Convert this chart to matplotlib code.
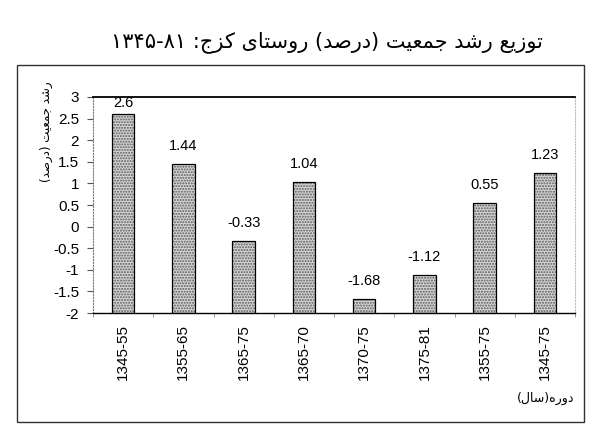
import numpy as np
import matplotlib
matplotlib.use('Agg')
import matplotlib.pyplot as plt
from matplotlib.patches import Rectangle

# data
periods = ['1345-55', '1355-65', '1365-75', '1365-70',
           '1370-75', '1375-81', '1355-75', '1345-75']
growth = [2.6, 1.44, -0.33, 1.04, -1.68, -1.12, 0.55, 1.23]
y_ticks = [-2, -1.5, -1, -0.5, 0, 0.5, 1, 1.5, 2, 2.5, 3]

# persian letters -> (isolated, final, initial, medial); None = no forward join
FORMS = {
    'ا': ('\uFE8D', '\uFE8E', None, None),
    'د': ('\uFEA9', '\uFEAA', None, None),
    'ر': ('\uFEAD', '\uFEAE', None, None),
    'ز': ('\uFEAF', '\uFEB0', None, None),
    'و': ('\uFEED', '\uFEEE', None, None),
    'ت': ('\uFE95', '\uFE96', '\uFE97', '\uFE98'),
    'ج': ('\uFE9D', '\uFE9E', '\uFE9F', '\uFEA0'),
    'س': ('\uFEB1', '\uFEB2', '\uFEB3', '\uFEB4'),
    'ش': ('\uFEB5', '\uFEB6', '\uFEB7', '\uFEB8'),
    'ص': ('\uFEB9', '\uFEBA', '\uFEBB', '\uFEBC'),
    'ع': ('\uFEC9', '\uFECA', '\uFECB', '\uFECC'),
    'ک': ('\uFB8E', '\uFB8F', '\uFB90', '\uFB91'),
    'ل': ('\uFEDD', '\uFEDE', '\uFEDF', '\uFEE0'),
    'م': ('\uFEE1', '\uFEE2', '\uFEE3', '\uFEE4'),
    'ه': ('\uFEE9', '\uFEEA', '\uFEEB', '\uFEEC'),
    'ی': ('\uFBFC', '\uFBFD', '\uFBFE', '\uFBFF'),
}


def fa(text):
    """shape persian text and return it in visual (left to right) order"""
    out = []
    for i, ch in enumerate(text):
        if ch not in FORMS:
            out.append(ch)
            continue
        prev = text[i - 1] if i > 0 else ''
        nxt = text[i + 1] if i + 1 < len(text) else ''
        join_prev = prev in FORMS and FORMS[prev][2] is not None
        join_next = nxt in FORMS and FORMS[ch][2] is not None
        iso, fin, ini, med = FORMS[ch]
        if join_prev and join_next:
            out.append(med)
        elif join_prev:
            out.append(fin)
        elif join_next:
            out.append(ini)
        else:
            out.append(iso)
    swap = {'(': ')', ')': '('}
    return ''.join(swap.get(c, c) for c in reversed(out))


plt.rcParams['font.family'] = ['Liberation Sans', 'DejaVu Sans']

W, H = 604, 436
fig = plt.figure(figsize=(W / 100, H / 100), dpi=100)
ax = fig.add_axes([93 / W, 1 - 313 / H, (575 - 93) / W, (313 - 97) / H])

x = np.arange(len(periods))
base = -2
vals = np.array(growth)
# stippled fill, then a black outline on top
ax.bar(x, vals - base, bottom=base, width=0.37, color='#d6d6d6',
       hatch='......', edgecolor='#5a5a5a', linewidth=0, zorder=2)
ax.bar(x, vals - base, bottom=base, width=0.37, fill=False,
       edgecolor='black', linewidth=0.9, zorder=3)

for xi, v in zip(x, growth):
    ax.text(xi, min(v + 0.42, 2.87), f'{v:g}', ha='center', va='center',
            fontsize=10.5, zorder=4)

ax.set_xlim(-0.5, len(periods) - 0.5)
ax.set_ylim(-2, 3)
ax.set_yticks(y_ticks)
ax.set_yticklabels([f'{t:g}' for t in y_ticks], fontsize=11)
ax.set_xticks(x)
ax.set_xticklabels(periods, rotation=90, fontsize=11)
ax.set_xticks(np.arange(len(periods) + 1) - 0.5, minor=True)
ax.tick_params(axis='x', which='major', length=0, pad=8)
ax.tick_params(axis='x', which='minor', length=3, direction='out',
               color='#888888')
ax.tick_params(axis='y', length=4, direction='out', pad=6, color='#555555')

ax.spines['top'].set_linewidth(1.3)
ax.spines['bottom'].set_linewidth(1.0)
ax.spines['left'].set_linestyle(':')
ax.spines['left'].set_color('#777777')
ax.spines['right'].set_linestyle(':')
ax.spines['right'].set_color('#bbbbbb')

# outer chart frame
fig.add_artist(Rectangle((17 / W, 1 - 422 / H), (584 - 17) / W, (422 - 65) / H,
                         transform=fig.transFigure, fill=False,
                         edgecolor='#333333', linewidth=1.0))

title = '۱۳۴۵-۸۱ ' + fa('توزیع رشد جمعیت (درصد) روستای کزج:')
fig.text(327 / W, 1 - 42 / H, title, ha='center', va='center',
         fontsize=15, family=['DejaVu Sans'])
fig.text(46 / W, 1 - 132 / H, fa('رشد جمعیت (درصد)'), rotation=90,
         ha='center', va='center', fontsize=8.5, family=['DejaVu Sans'])
fig.text(574 / W, 1 - 398 / H, fa('دوره(سال)'), ha='right', va='center',
         fontsize=9, family=['DejaVu Sans'])

fig.savefig('out.png', dpi=100)
